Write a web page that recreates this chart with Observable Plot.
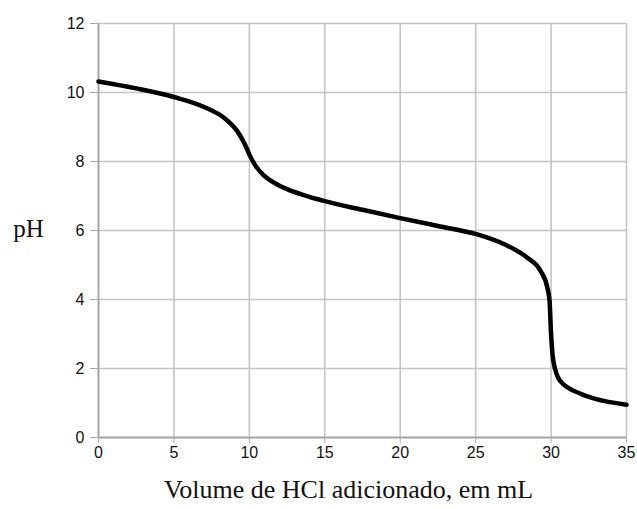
<!DOCTYPE html>
<html>
<head>
<meta charset="utf-8">
<script src="https://cdn.jsdelivr.net/npm/d3@7"></script>
<script src="https://cdn.jsdelivr.net/npm/@observablehq/plot@0.6"></script>
<style>
  html, body { margin: 0; padding: 0; background: #fff; }
</style>
</head>
<body>
<div id="chart"></div>
<script>
const volume = [0, 2.5, 5, 7, 8.4, 9.2, 9.7, 10.0, 10.4, 11, 12, 12.5, 13.5, 15, 17.5, 20, 22.5, 25, 26.9, 28.4, 29.3, 29.75, 29.9, 30.0, 30.15, 30.6, 32, 33.5, 35];
const pH =     [10.32, 10.12, 9.87, 9.58, 9.24, 8.88, 8.5, 8.2, 7.88, 7.58, 7.3, 7.2, 7.04, 6.85, 6.6, 6.36, 6.13, 5.9, 5.6, 5.22, 4.83, 4.35, 3.96, 3.0, 2.22, 1.64, 1.26, 1.06, 0.95];
const xTicks = [0, 5, 10, 15, 20, 25, 30, 35];
const yTicks = [0, 2, 4, 6, 8, 10, 12];
const xLabel = "Volume de HCl adicionado, em mL";
const yLabel = "pH";

const data = volume.map((v, i) => ({v, p: pH[i]}));
const gridColor = "#c4c4c4";
const axisColor = "#a8a8a8";

const chart = Plot.plot({
  width: 637,
  height: 509,
  marginLeft: 98,
  marginRight: 11,
  marginTop: 23,
  marginBottom: 72,
  style: {fontFamily: "'Liberation Sans', Arial, sans-serif", fontSize: "16px", color: "#111", background: "#fff"},
  x: {domain: [0, 35], ticks: xTicks, label: null},
  y: {domain: [0, 12], ticks: yTicks, label: null},
  marks: [
    Plot.gridX(xTicks, {stroke: gridColor, strokeOpacity: 1, strokeWidth: 1.6}),
    Plot.gridY(yTicks, {stroke: gridColor, strokeOpacity: 1, strokeWidth: 1.6}),
    Plot.ruleX([0], {stroke: axisColor, strokeWidth: 1.8}),
    Plot.ruleY([0], {stroke: axisColor, strokeWidth: 1.8}),
    Plot.axisX(xTicks, {tickSize: 6, tickPadding: 3, stroke: axisColor, fontSize: 16, fill: "#111"}),
    Plot.axisY(yTicks, {tickSize: 8, tickPadding: 6, stroke: axisColor, fontSize: 16, fill: "#111"}),
    Plot.line(data, {x: "v", y: "p", stroke: "#000", strokeWidth: 4.5, curve: "monotone-x", strokeLinecap: "round"}),
    Plot.text([yLabel], {frameAnchor: "left", dx: -70, dy: -2, textAnchor: "middle", fontFamily: "'Liberation Serif', 'Times New Roman', serif", fontSize: 25, fill: "#111"}),
    Plot.text([xLabel], {frameAnchor: "bottom", dx: -14, dy: 52, textAnchor: "middle", lineAnchor: "middle", fontFamily: "'Liberation Serif', 'Times New Roman', serif", fontSize: 26, fill: "#111"})
  ]
});
document.getElementById("chart").appendChild(chart);
</script>
</body>
</html>
